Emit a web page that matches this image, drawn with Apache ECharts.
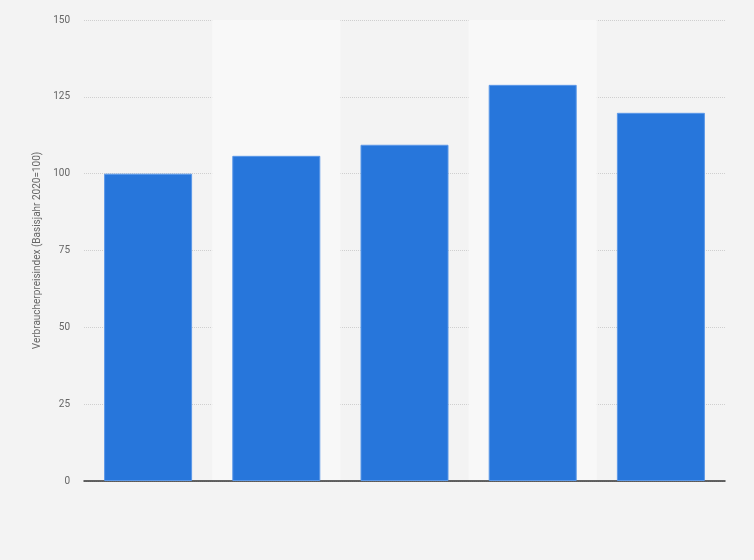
<!DOCTYPE html>
<html lang="de">
<head>
    <meta charset="UTF-8">
    <title>Verbraucherpreisindex</title>
    <script src="https://cdn.jsdelivr.net/npm/echarts@6/dist/echarts.min.js"></script>
    <style>
        *{
            margin: 0;
            padding: 0;
        }
        body{
            background: #f3f3f3;
        }
        #box{
            width: 754px;
            height: 560px;
        }
    </style>
</head>
<body>
<div id="box"></div>
<script type="text/javascript">
    // Kategorien (im Original ohne Beschriftung)
    let categories = ['Kategorie 1', 'Kategorie 2', 'Kategorie 3', 'Kategorie 4', 'Kategorie 5'];
    // Indexwerte, Basisjahr 2020 = 100
    let values = [100, 105.8, 109.4, 128.9, 119.8];
    let yTicks = [0, 25, 50, 75, 100, 125, 150];

    let chart = echarts.init(document.getElementById('box'));
    let option = {
        backgroundColor: '#f3f3f3',
        textStyle: {
            fontFamily: 'Roboto, "Liberation Sans", sans-serif'
        },
        grid: {
            left: 84,
            right: 29,
            top: 20,
            bottom: 79
        },
        xAxis: {
            type: 'category',
            data: categories,
            axisTick: {show: false},
            axisLabel: {show: false},
            axisLine: {
                lineStyle: {color: '#333', width: 1.5}
            },
            splitArea: {
                show: true,
                areaStyle: {color: ['rgba(0,0,0,0)', '#f8f8f8']}
            }
        },
        yAxis: {
            type: 'value',
            min: yTicks[0],
            max: yTicks[yTicks.length - 1],
            interval: 25,
            name: 'Verbraucherpreisindex (Basisjahr 2020=100)',
            nameLocation: 'middle',
            nameGap: 34,
            nameTextStyle: {color: '#666', fontSize: 10},
            axisLine: {show: false},
            axisTick: {show: false},
            axisLabel: {color: '#666', fontSize: 10, margin: 14},
            splitLine: {
                lineStyle: {color: '#cfcfcf', type: 'dotted', width: 1}
            }
        },
        series: [{
            type: 'bar',
            data: values,
            barWidth: 88,
            itemStyle: {
                color: '#2776db',
                borderColor: '#5b98e8',
                borderWidth: 1
            }
        }]
    };
    chart.setOption(option);
</script>
</body>
</html>
